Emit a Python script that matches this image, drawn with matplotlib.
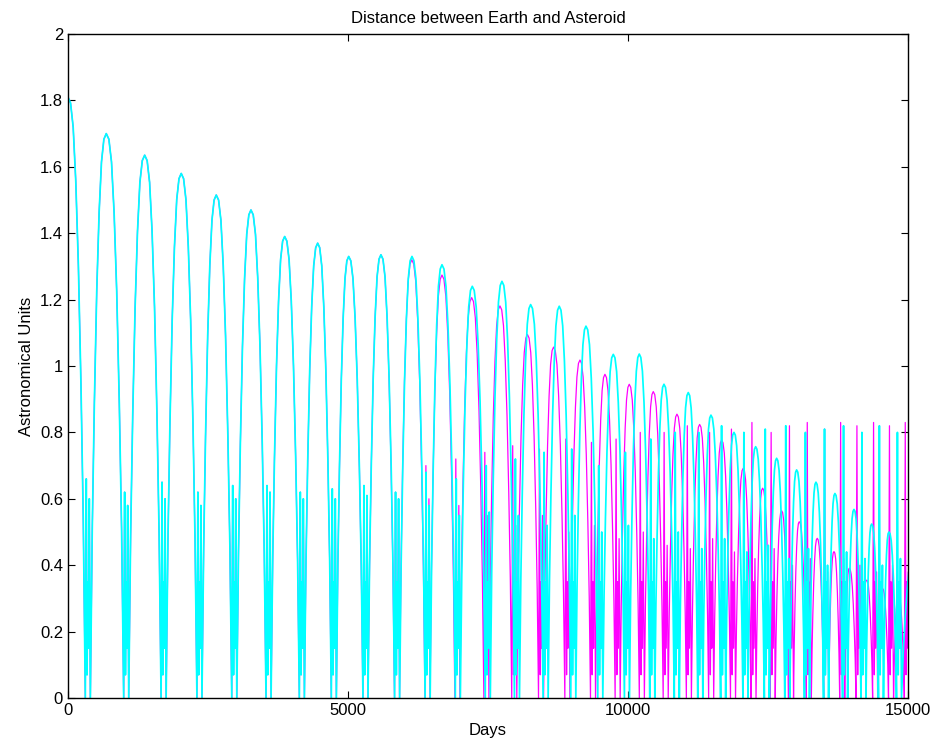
import numpy as np
import matplotlib.pyplot as plt
from matplotlib.ticker import FormatStrFormatter

plt.rcParams['font.family'] = ['Liberation Sans', 'DejaVu Sans']

# cyan track: arc peaks (day, AU), close approaches between them, spike heights there
cyan_peak_day = [0, 684, 1370, 2023, 2648, 3268, 3870, 4459, 5013, 5589,
                 6143, 6679, 7220, 7750, 8262, 8773, 9250, 9738, 10202, 10643,
                 11077, 11482, 11893, 12280, 12655, 13012, 13357, 13696, 14036, 14352,
                 14660, 15160]
cyan_peak_au = [1.81, 1.70, 1.635, 1.58, 1.515, 1.47, 1.39, 1.37, 1.33, 1.335,
                1.33, 1.305, 1.24, 1.255, 1.185, 1.18, 1.12, 1.035, 1.036, 0.945,
                0.92, 0.852, 0.80, 0.757, 0.722, 0.687, 0.65, 0.616, 0.568, 0.524,
                0.50, 0.48]
cyan_close_day = [355, 1040, 1708, 2348, 2970, 3582, 4177, 4748, 5313, 5878,
                  6423, 6962, 7497, 8018, 8530, 9024, 9506, 9982, 10435, 10872,
                  11292, 11700, 12098, 12480, 12846, 13197, 13538, 13878, 14206, 14518,
                  14840]
cyan_spike_au = [0.66, 0.62, 0.65, 0.62, 0.64, 0.64, 0.62, 0.63, 0.64, 0.62,
                 0.68, 0.66, 0.70, 0.72, 0.74, 0.75, 0.70, 0.74, 0.78, 0.80,
                 0.80, 0.82, 0.80, 0.81, 0.82, 0.80, 0.81, 0.82, 0.80, 0.82,
                 0.80]
cyan_spike2_au = [0.60, 0.58, 0.60, 0.58, 0.60, 0.62, 0.60, 0.60, 0.61, 0.60,
                  0.58, 0.55, 0.56, 0.55, 0.52, 0.55, 0.50, 0.52, 0.48, 0.50,
                  0.45, 0.48, 0.44, 0.46, 0.42, 0.45, 0.40, 0.44, 0.42, 0.40,
                  0.42]

# magenta track: same until ~6100 days, then drifts ahead and lower
magenta_peak_day = [0, 684, 1370, 2023, 2648, 3268, 3870, 4459, 5013, 5589,
                    6140, 6679, 7209, 7714, 8205, 8672, 9143, 9589, 10023, 10452,
                    10875, 11280, 11673, 12059, 12405, 12744, 13059, 13380, 13679, 13952,
                    14262, 14545, 14830, 15110]
magenta_peak_au = [1.81, 1.70, 1.635, 1.58, 1.515, 1.47, 1.39, 1.37, 1.33, 1.335,
                   1.32, 1.274, 1.206, 1.181, 1.095, 1.057, 1.018, 0.975, 0.945, 0.923,
                   0.855, 0.824, 0.777, 0.692, 0.632, 0.564, 0.531, 0.481, 0.441, 0.391,
                   0.355, 0.33, 0.31, 0.30]
magenta_close_day = [355, 1040, 1708, 2348, 2970, 3582, 4177, 4748, 5313, 5876,
                     6420, 6954, 7472, 7970, 8448, 8918, 9376, 9816, 10248, 10674,
                     11088, 11486, 11876, 12242, 12585, 12912, 13230, 13540, 13826, 14117,
                     14414, 14698, 14980]
magenta_spike_au = [0.66, 0.62, 0.65, 0.62, 0.64, 0.64, 0.62, 0.63, 0.64, 0.62,
                    0.70, 0.72, 0.74, 0.76, 0.75, 0.78, 0.77, 0.78, 0.80, 0.80,
                    0.82, 0.80, 0.81, 0.83, 0.80, 0.82, 0.83, 0.81, 0.83, 0.82,
                    0.83, 0.82, 0.83]
magenta_spike2_au = [0.60, 0.58, 0.60, 0.58, 0.60, 0.62, 0.60, 0.60, 0.61, 0.60,
                     0.60, 0.58, 0.55, 0.52, 0.55, 0.50, 0.52, 0.48, 0.50, 0.46,
                     0.45, 0.48, 0.44, 0.42, 0.45, 0.40, 0.42, 0.38, 0.42, 0.40,
                     0.38, 0.40, 0.38]

# shape of one half arc (zero -> peak)
ARC_FRAC = [0, 0.12, 0.25, 0.4, 0.55, 0.7, 0.85, 1.0]
ARC_LEVEL = [0, 0.30, 0.52, 0.72, 0.86, 0.95, 0.99, 1.0]
# close approach cluster: days relative to the centre, wiggles between the two spikes
BOTTOM_OFFSET = [-45, -28, -14, -2, 10, 26, 45]
BOTTOM_WIGGLE = [0.07, 0.35, 0.15]


def build_track(peak_day, peak_au, close_day, spike_au, spike2_au):
    days, au = [], []
    for i, c in enumerate(close_day):
        p0, v0 = peak_day[i], peak_au[i]
        p1, v1 = peak_day[i + 1], peak_au[i + 1]
        z0 = c + BOTTOM_OFFSET[0]
        z1 = c + BOTTOM_OFFSET[-1]
        # falling arc
        for f, l in zip(ARC_FRAC[::-1], ARC_LEVEL[::-1]):
            days.append(z0 - f * (z0 - p0))
            au.append(l * v0)
        # spikes around the close approach
        levels = [spike_au[i]] + BOTTOM_WIGGLE + [spike2_au[i]]
        for off, lv in zip(BOTTOM_OFFSET[1:-1], levels):
            days.append(c + off)
            au.append(lv)
        # rising arc
        for f, l in zip(ARC_FRAC, ARC_LEVEL):
            days.append(z1 + f * (p1 - z1))
            au.append(l * v1)
    return np.array(days), np.array(au)


fig = plt.figure(figsize=(9.4, 7.5), dpi=100)
ax = fig.add_axes([0.0723, 0.0693, 0.8936, 0.8854])

md, ma = build_track(magenta_peak_day, magenta_peak_au, magenta_close_day,
                     magenta_spike_au, magenta_spike2_au)
cd, ca = build_track(cyan_peak_day, cyan_peak_au, cyan_close_day,
                     cyan_spike_au, cyan_spike2_au)
ax.plot(md, ma, color='#ff00ff', linewidth=0.9)
ax.plot(cd, ca, color='#00ffff', linewidth=1.25)

ax.set_xlim(0, 15000)
ax.set_ylim(0, 2)
ax.set_xticks([0, 5000, 10000, 15000])
ax.set_yticks(np.arange(0, 2.01, 0.2))
ax.yaxis.set_major_formatter(FormatStrFormatter('%g'))
ax.tick_params(direction='in', top=True, right=True, length=5, labelsize=12)
for s in ax.spines.values():
    s.set_linewidth(1.0)

ax.set_title('Distance between Earth and Asteroid', fontsize=12, pad=8)
ax.set_xlabel('Days', fontsize=12, labelpad=4)
ax.set_ylabel('Astronomical Units', fontsize=12, labelpad=4)

plt.savefig('out.png', dpi=100)
plt.close()
